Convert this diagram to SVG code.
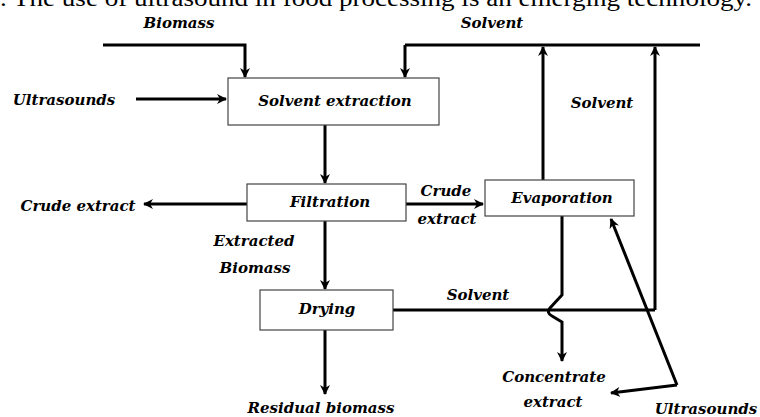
<svg xmlns="http://www.w3.org/2000/svg" width="760" height="417" viewBox="0 0 760 417">
<defs>
<marker id="ah" viewBox="0 0 10 10" refX="9" refY="5" markerWidth="10" markerHeight="10" markerUnits="userSpaceOnUse" orient="auto">
<path d="M0,0 L10,5 L0,10 L3,5 Z" fill="#000"/>
</marker>
<style>
.lbl{font-family:'DejaVu Serif','Liberation Serif',serif;font-style:italic;font-weight:bold;font-size:15px;fill:#000}
.box{fill:#fff;stroke:#444;stroke-width:1.2}
.ln{fill:none;stroke:#000;stroke-width:3}
.ar{fill:none;stroke:#000;stroke-width:3;marker-end:url(#ah)}
</style>
</defs>
<rect width="760" height="417" fill="#fff"/>
<text x="0" y="6" font-family="Liberation Serif, serif" font-size="24" textLength="752" lengthAdjust="spacingAndGlyphs">. The use of ultrasound in food processing is an emerging technology.</text>
<g id="connectors">
<path class="ar" d="M103,45 H245 V77"/>
<path class="ln" d="M405,45 H700"/>
<path class="ar" d="M405,45 V77"/>
<path class="ar" d="M136,99 H226"/>
<path class="ar" d="M325,125 V183"/>
<path class="ar" d="M247,204 H144"/>
<path class="ar" d="M406,204 H483"/>
<path class="ar" d="M543,180 V47"/>
<path class="ar" d="M655,310 V47"/>
<path class="ar" d="M325,221 V289"/>
<path class="ln" d="M393,310 H655"/>
<path class="ar" d="M325,330 V394"/>
<path class="ar" d="M562,216 V295 L550,308 Q546,313 552,316 L562,322 V361"/>
<path class="ar" d="M677,385 L611,219"/>
<path class="ar" d="M677,385 L611,393"/>
</g>
<g id="n-biomass"><text class="lbl" x="179" y="28" text-anchor="middle">Biomass</text></g>
<g id="n-solvent-top"><text class="lbl" x="492" y="28" text-anchor="middle">Solvent</text></g>
<g id="n-ultrasounds-in"><text class="lbl" x="64" y="105" text-anchor="middle">Ultrasounds</text></g>
<g id="n-solvent-extraction">
<rect class="box" x="228" y="78" width="211" height="47"/>
<text class="lbl" x="335" y="106" text-anchor="middle">Solvent extraction</text>
</g>
<g id="n-filtration">
<rect class="box" x="247" y="184" width="159" height="37"/>
<text class="lbl" x="330" y="207" text-anchor="middle">Filtration</text>
</g>
<g id="n-crude-extract"><text class="lbl" x="78" y="211" text-anchor="middle">Crude extract</text></g>
<g id="n-crude-label">
<text class="lbl" x="446" y="196" text-anchor="middle">Crude</text>
<text class="lbl" x="447" y="224" text-anchor="middle">extract</text>
</g>
<g id="n-evaporation">
<rect class="box" x="485" y="180" width="149" height="36"/>
<text class="lbl" x="562" y="203" text-anchor="middle">Evaporation</text>
</g>
<g id="n-solvent-right"><text class="lbl" x="602" y="108" text-anchor="middle">Solvent</text></g>
<g id="n-extracted-biomass">
<text class="lbl" x="254" y="246" text-anchor="middle">Extracted</text>
<text class="lbl" x="255" y="273" text-anchor="middle">Biomass</text>
</g>
<g id="n-drying">
<rect class="box" x="260" y="290" width="133" height="40"/>
<text class="lbl" x="327" y="314" text-anchor="middle">Drying</text>
</g>
<g id="n-solvent-bottom"><text class="lbl" x="478" y="300" text-anchor="middle">Solvent</text></g>
<g id="n-residual"><text class="lbl" x="321" y="413" text-anchor="middle">Residual biomass</text></g>
<g id="n-concentrate">
<text class="lbl" x="554" y="382" text-anchor="middle">Concentrate</text>
<text class="lbl" x="553" y="407" text-anchor="middle">extract</text>
</g>
<g id="n-ultrasounds-out"><text class="lbl" x="706" y="414" text-anchor="middle">Ultrasounds</text></g>
</svg>
